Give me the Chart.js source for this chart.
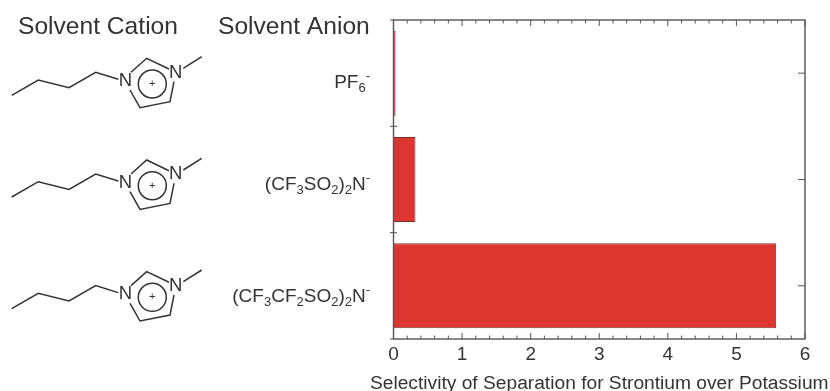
<!DOCTYPE html>
<html>
<head>
<meta charset="utf-8">
<style>
  html, body { margin: 0; padding: 0; background: #fff; }
  canvas { display: block; }
</style>
<script src="https://cdn.jsdelivr.net/npm/chart.js@4/dist/chart.umd.min.js"></script>
</head>
<body>
<canvas id="selectivityChart" width="830" height="391"></canvas>
<script>
const anions = ["PF6-", "(CF3SO2)2N-", "(CF3CF2SO2)2N-"];
const selectivity = [0.03, 0.32, 5.58];
const xTicks = [0, 1, 2, 3, 4, 5, 6];
const xTitle = "Selectivity of Separation for Strontium over Potassium";
const headers = ["Solvent Cation", "Solvent Anion"];

const FONT = '"Liberation Sans", Arial, sans-serif';
const INK = "#333333";

// label sits a bit under the bar centre in the original figure
const labelNudge = [8, 4, 10];
const moleculeShift = [0, 101.7, 213.3];

// bmim cation outline, one list per stroke
const moleculeStrokes = [
  [[11.7, 95.3], [38.3, 80], [69, 87.7], [95.7, 72.3], [118.3, 79.3]],
  [[131, 72.3], [146.7, 58.3], [169, 69]],
  [[183.3, 68.3], [201.7, 56.7]],
  [[174, 81.7], [170, 101.7], [140, 107.7], [130, 90]]
];

function drawMolecule(ctx, dy) {
  ctx.save();
  ctx.strokeStyle = INK;
  ctx.fillStyle = INK;
  ctx.lineWidth = 1.5;
  moleculeStrokes.forEach(stroke => {
    ctx.beginPath();
    stroke.forEach((p, i) => {
      if (i === 0) ctx.moveTo(p[0], p[1] + dy);
      else ctx.lineTo(p[0], p[1] + dy);
    });
    ctx.stroke();
  });
  ctx.beginPath();
  ctx.arc(152.3, 84 + dy, 14, 0, Math.PI * 2);
  ctx.stroke();

  ctx.textAlign = "center";
  ctx.textBaseline = "middle";
  ctx.font = "18.5px " + FONT;
  ctx.fillText("N", 125.5, 81 + dy);
  ctx.fillText("N", 175.7, 72.5 + dy);
  ctx.font = "11px " + FONT;
  ctx.fillText("+", 152.3, 84 + dy);
  ctx.restore();
}

// split "CF3" style labels into normal, subscript and superscript runs
function labelRuns(label) {
  return label.split(/(\d|-$)/).filter(Boolean).map(text => ({
    text: text,
    kind: /\d/.test(text) ? "sub" : text === "-" ? "sup" : "normal"
  }));
}

function drawAnionLabel(ctx, label, right, y) {
  const runs = labelRuns(label);
  const fontFor = kind => (kind === "normal" ? "19px " : "13px ") + FONT;
  ctx.save();
  ctx.fillStyle = INK;
  ctx.textAlign = "left";
  ctx.textBaseline = "alphabetic";
  let width = 0;
  runs.forEach(r => {
    ctx.font = fontFor(r.kind);
    r.width = ctx.measureText(r.text).width;
    width += r.width;
  });
  let x = right - width;
  runs.forEach(r => {
    ctx.font = fontFor(r.kind);
    const shift = r.kind === "sub" ? 4 : r.kind === "sup" ? -8 : 0;
    ctx.fillText(r.text, x, y + 6.5 + shift);
    x += r.width;
  });
  ctx.restore();
}

const figureExtras = {
  id: "figureExtras",
  afterDraw(chart) {
    const ctx = chart.ctx;
    const area = chart.chartArea;
    const xScale = chart.scales.x;
    const yScale = chart.scales.y;

    // frame
    ctx.save();
    ctx.strokeStyle = "#555555";
    ctx.lineWidth = 1.4;
    ctx.strokeRect(area.left, area.top, area.right - area.left, area.bottom - area.top);

    // x ticks, inward on both long edges, minor every 0.2
    ctx.lineWidth = 1;
    for (let i = 0; i <= 30; i++) {
      const px = xScale.getPixelForValue(i / 5);
      const len = i % 5 === 0 ? 6 : 3.5;
      ctx.beginPath();
      ctx.moveTo(px, area.top);
      ctx.lineTo(px, area.top + len);
      ctx.moveTo(px, area.bottom);
      ctx.lineTo(px, area.bottom - len);
      ctx.stroke();
    }

    // y ticks: left at category edges, right at category centres
    anions.forEach((name, i) => {
      const centre = yScale.getPixelForValue(i);
      ctx.beginPath();
      ctx.moveTo(area.right, centre);
      ctx.lineTo(area.right - 7, centre);
      ctx.stroke();
      const edge = centre + (yScale.getPixelForValue(1) - yScale.getPixelForValue(0)) / 2;
      ctx.beginPath();
      ctx.moveTo(area.left - 3.5, edge);
      ctx.lineTo(i < anions.length - 1 ? area.left + 3.5 : area.left, edge);
      ctx.stroke();
      drawAnionLabel(ctx, name, 370, centre + labelNudge[i]);
    });
    ctx.beginPath();
    ctx.moveTo(area.left - 3.5, area.top);
    ctx.lineTo(area.left, area.top);
    ctx.stroke();
    ctx.restore();

    // column headers
    ctx.save();
    ctx.fillStyle = INK;
    ctx.font = "24.6px " + FONT;
    ctx.textAlign = "left";
    ctx.textBaseline = "alphabetic";
    ctx.fillText(headers[0], 18, 34);
    ctx.fillText(headers[1], 218, 34);

    // axis title is wider than the plot, the scale title would squeeze it
    ctx.font = "19.2px " + FONT;
    ctx.textAlign = "center";
    ctx.fillText(xTitle, (area.left + area.right) / 2, 389);
    ctx.restore();

    moleculeShift.forEach(dy => drawMolecule(ctx, dy));
  }
};

new Chart(document.getElementById("selectivityChart").getContext("2d"), {
  type: "bar",
  data: {
    labels: anions,
    datasets: [{
      data: selectivity,
      backgroundColor: "#dd3530",
      borderColor: "#7a2f2c",
      borderWidth: 1,
      barPercentage: 0.8,
      categoryPercentage: 1
    }]
  },
  plugins: [figureExtras],
  options: {
    indexAxis: "y",
    responsive: false,
    animation: false,
    layout: { padding: { left: 0, right: 25, top: 20, bottom: 0 } },
    plugins: { legend: { display: false }, tooltip: { enabled: false } },
    scales: {
      x: {
        min: xTicks[0],
        max: xTicks[xTicks.length - 1],
        grid: { display: false, drawTicks: false },
        border: { display: false },
        afterBuildTicks: axis => { axis.ticks = xTicks.map(v => ({ value: v })); },
        afterFit: axis => { axis.height = 52; },
        ticks: { color: INK, font: { family: FONT, size: 19 }, padding: 4, maxRotation: 0 }
      },
      y: {
        grid: { display: false },
        border: { display: false },
        ticks: { display: false },
        afterFit: axis => { axis.width = 393.5; }
      }
    }
  }
});
</script>
</body>
</html>
